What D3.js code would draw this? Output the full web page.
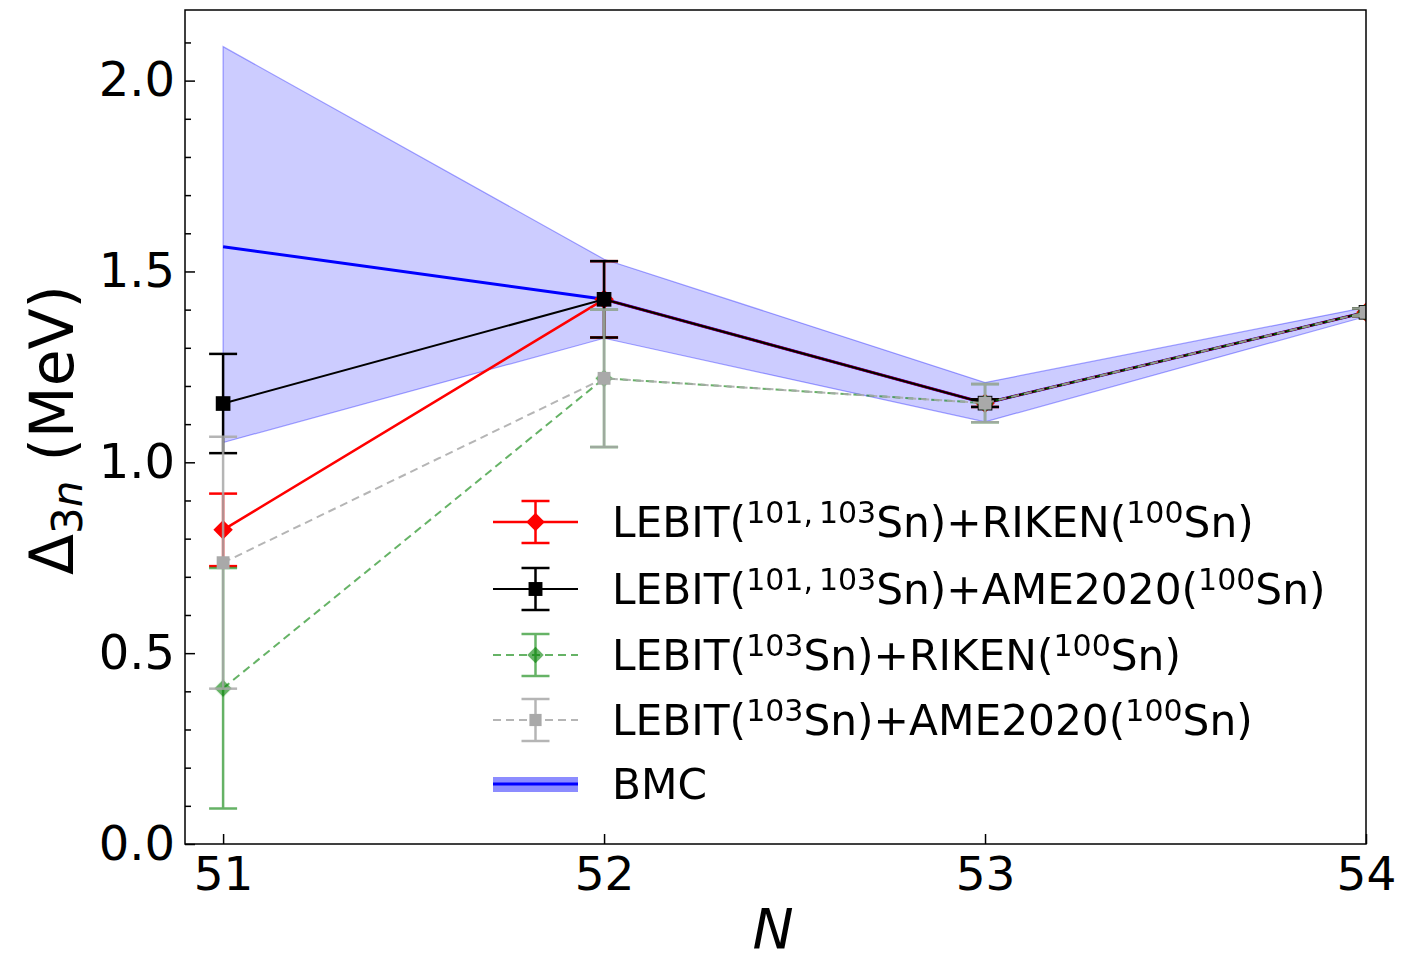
<!DOCTYPE html>
<html>
<head>
<meta charset="utf-8">
<script src="https://cdn.jsdelivr.net/npm/d3@7"></script>
<style>
  body { margin: 0; background: #fff; }
  svg { display: block; }
  text { font-family: "DejaVu Sans", sans-serif; fill: #000; }
</style>
</head>
<body>
<svg id="chart" width="1410" height="963"></svg>
<script>
// Neutron number N and tick labels
const neutronNumbers = [51, 52, 53, 54];
const xTickValues = [51, 52, 53, 54];
const yTickValues = [0.0, 0.5, 1.0, 1.5, 2.0];
const yMinorTickValues = [0.1, 0.2, 0.3, 0.4, 0.6, 0.7, 0.8, 0.9, 1.1, 1.2, 1.3, 1.4, 1.6, 1.7, 1.8, 1.9, 2.1];

// BMC prediction with its uncertainty band (MeV)
const bmcValues = [1.565, 1.427, 1.155, 1.393];
const bmcLower = [1.052, 1.325, 1.106, 1.382];
const bmcUpper = [2.089, 1.532, 1.209, 1.406];

// Three-point gaps Δ3n (MeV) and 1σ uncertainties
const riken2Values = [0.823, 1.427, 1.155, 1.393];   // LEBIT(101,103Sn)+RIKEN(100Sn)
const riken2Errors = [0.095, 0.100, 0.010, 0.010];
const ame2Values = [1.154, 1.427, 1.155, 1.393];     // LEBIT(101,103Sn)+AME2020(100Sn)
const ame2Errors = [0.130, 0.100, 0.010, 0.010];
const riken1Values = [0.408, 1.220, 1.155, 1.393];   // LEBIT(103Sn)+RIKEN(100Sn)
const riken1Errors = [0.315, 0.180, 0.050, 0.010];
const ame1Values = [0.737, 1.220, 1.155, 1.393];     // LEBIT(103Sn)+AME2020(100Sn)
const ame1Errors = [0.330, 0.180, 0.050, 0.010];

// Legend label pieces (second entry flags a superscript)
const labelRiken2 = [["LEBIT("], ["101,\u2009103", 1], ["Sn)+RIKEN("], ["100", 1], ["Sn)"]];
const labelAme2 = [["LEBIT("], ["101,\u2009103", 1], ["Sn)+AME2020("], ["100", 1], ["Sn)"]];
const labelRiken1 = [["LEBIT("], ["103", 1], ["Sn)+RIKEN("], ["100", 1], ["Sn)"]];
const labelAme1 = [["LEBIT("], ["103", 1], ["Sn)+AME2020("], ["100", 1], ["Sn)"]];
const labelBmc = [["BMC"]];

const svg = d3.select("#chart");
const plot = { left: 185, right: 1366, top: 10, bottom: 844 };

const x = d3.scaleLinear().domain([50.9, 54]).range([plot.left, plot.right]);
const y = d3.scaleLinear().domain([0, 2.185]).range([plot.bottom, plot.top]);

svg.append("defs").append("clipPath").attr("id", "plotClip")
  .append("rect")
  .attr("x", plot.left).attr("y", plot.top)
  .attr("width", plot.right - plot.left).attr("height", plot.bottom - plot.top);

const data = svg.append("g").attr("clip-path", "url(#plotClip)");

// BMC band and central line
const bandRows = neutronNumbers.map((n, i) => ({ n, lo: bmcLower[i], hi: bmcUpper[i] }));
data.append("path")
  .datum(bandRows)
  .attr("d", d3.area().x(d => x(d.n)).y0(d => y(d.lo)).y1(d => y(d.hi)))
  .attr("fill", "rgba(0,0,255,0.2)")
  .attr("stroke", "rgba(0,0,255,0.35)")
  .attr("stroke-width", 1.2);

data.append("path")
  .datum(neutronNumbers.map((n, i) => ({ n, v: bmcValues[i] })))
  .attr("d", d3.line().x(d => x(d.n)).y(d => y(d.v)))
  .attr("fill", "none")
  .attr("stroke", "#0000ff")
  .attr("stroke-width", 3);

const series = [
  { values: riken2Values, errors: riken2Errors, color: "#ff0000", lineOpacity: 1, markerOpacity: 1, marker: "diamond", mSize: 190, lineWidth: 2.5, dash: null, errWidth: 2.5, label: labelRiken2 },
  { values: ame2Values, errors: ame2Errors, color: "#000000", lineOpacity: 1, markerOpacity: 1, marker: "square", mSize: 215, lineWidth: 2, dash: null, errWidth: 2.5, label: labelAme2 },
  { values: riken1Values, errors: riken1Errors, color: "#008000", lineOpacity: 0.6, markerOpacity: 0.6, marker: "diamond", mSize: 150, lineWidth: 2, dash: "8,5", errWidth: 2.5, label: labelRiken1 },
  { values: ame1Values, errors: ame1Errors, color: "#a9a9a9", lineOpacity: 0.85, markerOpacity: 1, marker: "square", mSize: 165, lineWidth: 2, dash: "8,5", errWidth: 2.5, label: labelAme1 }
];

function markerPath(size) {
  return d3.symbol().type(d3.symbolSquare).size(size)();
}
function markerTransform(kind, cx, cy) {
  return kind === "diamond" ? `translate(${cx},${cy}) rotate(45)` : `translate(${cx},${cy})`;
}

const capHalf = 14;

series.forEach(s => {
  const rows = neutronNumbers.map((n, i) => ({ n, v: s.values[i], e: s.errors[i] }));
  const g = data.append("g").attr("opacity", s.lineOpacity);
  // connecting line
  g.append("path")
    .datum(rows)
    .attr("d", d3.line().x(d => x(d.n)).y(d => y(d.v)))
    .attr("fill", "none")
    .attr("stroke", s.color)
    .attr("stroke-width", s.lineWidth)
    .attr("stroke-dasharray", s.dash);
  // error bars
  const eb = g.selectAll(".eb").data(rows).join("g");
  eb.append("line")
    .attr("x1", d => x(d.n)).attr("x2", d => x(d.n))
    .attr("y1", d => y(d.v - d.e)).attr("y2", d => y(d.v + d.e))
    .attr("stroke", s.color).attr("stroke-width", s.errWidth);
  [-1, 1].forEach(sign => {
    eb.append("line")
      .attr("x1", d => x(d.n) - capHalf).attr("x2", d => x(d.n) + capHalf)
      .attr("y1", d => y(d.v + sign * d.e)).attr("y2", d => y(d.v + sign * d.e))
      .attr("stroke", s.color).attr("stroke-width", s.errWidth);
  });
  // markers
  data.append("g").attr("opacity", s.markerOpacity)
    .selectAll("path").data(rows).join("path")
    .attr("d", markerPath(s.mSize))
    .attr("transform", d => markerTransform(s.marker, x(d.n), y(d.v)))
    .attr("fill", s.color);
});

// Axes with inward ticks
const yAxis = d3.axisLeft(y).tickValues(yTickValues).tickFormat(d3.format(".1f"))
  .tickSizeInner(-10).tickSizeOuter(0).tickPadding(10);
const yMinor = d3.axisLeft(y).tickValues(yMinorTickValues).tickFormat("")
  .tickSizeInner(-6).tickSizeOuter(0);
const xAxis = d3.axisBottom(x).tickValues(xTickValues).tickFormat(d3.format("d"))
  .tickSizeInner(-10).tickSizeOuter(0).tickPadding(13);

function styleAxis(g, fontSize) {
  g.select(".domain").remove();
  g.selectAll(".tick line").attr("stroke", "#000").attr("stroke-width", 1.5);
  g.selectAll(".tick text").attr("font-size", fontSize).attr("font-family", "DejaVu Sans").attr("fill", "#000");
}

svg.append("g").attr("transform", `translate(${plot.left},0)`).call(yMinor).call(g => styleAxis(g, 0));
svg.append("g").attr("transform", `translate(${plot.left},0)`).call(yAxis).call(g => styleAxis(g, 48));
svg.append("g").attr("transform", `translate(0,${plot.bottom})`).call(xAxis).call(g => styleAxis(g, 47));

// Frame
svg.append("rect")
  .attr("x", plot.left).attr("y", plot.top)
  .attr("width", plot.right - plot.left).attr("height", plot.bottom - plot.top)
  .attr("fill", "none").attr("stroke", "#000").attr("stroke-width", 1.5);

// Axis titles
const yTitle = svg.append("text")
  .attr("transform", "translate(73,430) rotate(-90)")
  .attr("text-anchor", "middle")
  .attr("font-size", 60);
yTitle.append("tspan").text("Δ");
yTitle.append("tspan").attr("font-size", 42).attr("dy", 9).text("3");
yTitle.append("tspan").attr("font-size", 42).attr("font-style", "italic").text("n");
yTitle.append("tspan").attr("dy", -9).text(" (MeV)");

svg.append("text")
  .attr("x", 773).attr("y", 948)
  .attr("text-anchor", "middle")
  .attr("font-size", 55)
  .attr("font-style", "italic")
  .text("N");

// Legend
const legend = svg.append("g");
const rowY = [522, 589, 655, 720, 784];
const hx0 = 493, hx1 = 578, hxc = (hx0 + hx1) / 2, textX = 612;
const legendFont = 42.3, supFont = 30, supRise = 14;

function writeLabel(parts, cy) {
  const t = legend.append("text").attr("x", textX).attr("y", cy + 15).attr("font-size", legendFont);
  let raised = false;
  parts.forEach(([str, sup]) => {
    const span = t.append("tspan").text(str);
    if (sup && !raised) { span.attr("font-size", supFont).attr("dy", -supRise); raised = true; }
    else if (!sup && raised) { span.attr("dy", supRise); raised = false; }
  });
}

series.forEach((s, i) => {
  const cy = rowY[i];
  const g = legend.append("g").attr("opacity", s.lineOpacity);
  g.append("line").attr("x1", hx0).attr("x2", hx1).attr("y1", cy).attr("y2", cy)
    .attr("stroke", s.color).attr("stroke-width", s.lineWidth).attr("stroke-dasharray", s.dash);
  g.append("line").attr("x1", hxc).attr("x2", hxc).attr("y1", cy - 21).attr("y2", cy + 21)
    .attr("stroke", s.color).attr("stroke-width", s.errWidth);
  [-21, 21].forEach(off => {
    g.append("line").attr("x1", hxc - capHalf).attr("x2", hxc + capHalf).attr("y1", cy + off).attr("y2", cy + off)
      .attr("stroke", s.color).attr("stroke-width", s.errWidth);
  });
  legend.append("path").attr("d", markerPath(s.mSize * 0.9))
    .attr("opacity", s.markerOpacity)
    .attr("transform", markerTransform(s.marker, hxc, cy)).attr("fill", s.color);
  writeLabel(s.label, cy);
});

// BMC legend entry
legend.append("rect").attr("x", hx0).attr("y", rowY[4] - 7).attr("width", hx1 - hx0).attr("height", 15)
  .attr("fill", "rgba(0,0,255,0.45)");
legend.append("line").attr("x1", hx0).attr("x2", hx1).attr("y1", rowY[4]).attr("y2", rowY[4])
  .attr("stroke", "#0000ff").attr("stroke-width", 3);
writeLabel(labelBmc, rowY[4]);
</script>
</body>
</html>
